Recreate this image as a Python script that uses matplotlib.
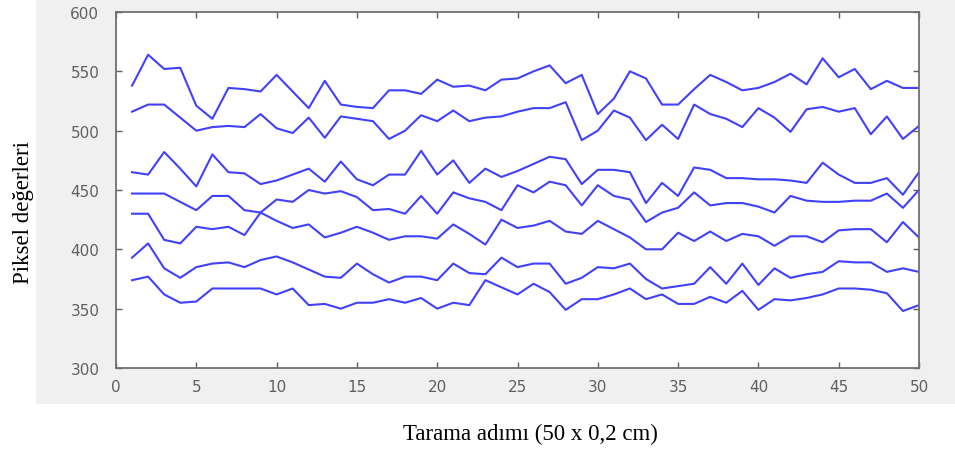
import matplotlib.pyplot as plt
from matplotlib.patches import Rectangle

# Tarama adimlari ve piksel degerleri (7 profil)
adim = list(range(1, 51))

s1 = [538, 564, 552, 553, 521, 510, 536, 535, 533, 547,
      533, 519, 542, 522, 520, 519, 534, 534, 531, 543,
      537, 538, 534, 543, 544, 550, 555, 540, 547, 514,
      527, 550, 544, 522, 522, 535, 547, 541, 534, 536,
      541, 548, 539, 561, 545, 552, 535, 542, 536, 536]
s2 = [516, 522, 522, 511, 500, 503, 504, 503, 514, 502,
      498, 511, 494, 512, 510, 508, 493, 500, 513, 508,
      517, 508, 511, 512, 516, 519, 519, 524, 492, 500,
      517, 511, 492, 505, 493, 522, 514, 510, 503, 519,
      511, 499, 518, 520, 516, 519, 497, 512, 493, 504]
s3 = [465, 463, 482, 468, 453, 480, 465, 464, 455, 458,
      463, 468, 457, 474, 459, 454, 463, 463, 483, 463,
      475, 456, 468, 461, 466, 472, 478, 476, 455, 467,
      467, 465, 439, 456, 445, 469, 467, 460, 460, 459,
      459, 458, 456, 473, 463, 456, 456, 460, 446, 465]
s4 = [447, 447, 447, 440, 433, 445, 445, 433, 431, 424,
      418, 421, 410, 414, 419, 414, 408, 411, 411, 409,
      421, 413, 404, 425, 418, 420, 424, 415, 413, 424,
      417, 410, 400, 400, 414, 407, 415, 407, 413, 411,
      403, 411, 411, 406, 416, 417, 417, 406, 423, 410]
s5 = [430, 430, 408, 405, 419, 417, 419, 412, 431, 442,
      440, 450, 447, 449, 444, 433, 434, 430, 445, 430,
      448, 443, 440, 433, 454, 448, 457, 454, 437, 454,
      445, 442, 423, 431, 435, 448, 437, 439, 439, 436,
      431, 445, 441, 440, 440, 441, 441, 447, 435, 450]
s6 = [393, 405, 384, 376, 385, 388, 389, 385, 391, 394,
      389, 383, 377, 376, 388, 379, 372, 377, 377, 374,
      388, 380, 379, 393, 385, 388, 388, 371, 376, 385,
      384, 388, 375, 367, 369, 371, 385, 371, 388, 370,
      384, 376, 379, 381, 390, 389, 389, 381, 384, 381]
s7 = [374, 377, 362, 355, 356, 367, 367, 367, 367, 362,
      367, 353, 354, 350, 355, 355, 358, 355, 359, 350,
      355, 353, 374, 368, 362, 371, 364, 349, 358, 358,
      362, 367, 358, 362, 354, 354, 360, 355, 365, 349,
      358, 357, 359, 362, 367, 367, 366, 363, 348, 353]

xticks = list(range(0, 51, 5))
yticks = list(range(300, 601, 50))

fig = plt.figure(figsize=(9.55, 4.52), dpi=100)

# gri figür zemini (MATLAB tarzı)
fig.patches.append(Rectangle((36 / 955, 1 - 405 / 452), 1 - 36 / 955, 405 / 452,
                             transform=fig.transFigure, facecolor='#f0f0f0',
                             edgecolor='none', zorder=-5))

ax = fig.add_axes([116 / 955, 1 - 369 / 452, 803 / 955, 356 / 452])
ax.set_zorder(2)
ax.set_facecolor('white')

for s in [s1, s2, s3, s4, s5, s6, s7]:
    ax.plot(adim, s, color='#4040ff', linewidth=1.5)

ax.set_xlim(0, 50)
ax.set_ylim(300, 600)
ax.set_xticks(xticks)
ax.set_yticks(yticks)
ax.tick_params(direction='in', top=True, right=True, length=4, width=1,
               colors='#606060', labelsize=11)
ax.tick_params(axis='y', pad=12)
ax.tick_params(axis='x', pad=8)
for lab in ax.get_xticklabels() + ax.get_yticklabels():
    lab.set_family('DejaVu Sans')
for sp in ax.spines.values():
    sp.set_color('#707070')
    sp.set_linewidth(1.3)

fig.text(23 / 955, 1 - 213 / 452, 'Piksel değerleri', rotation=90,
         ha='center', va='center', family='Liberation Serif', fontsize=16.5)
fig.text(530 / 955, 1 - 434 / 452, 'Tarama adımı (50 x 0,2 cm)',
         ha='center', va='center', family='Liberation Serif', fontsize=16.5)

fig.savefig('out.png', dpi=100)
